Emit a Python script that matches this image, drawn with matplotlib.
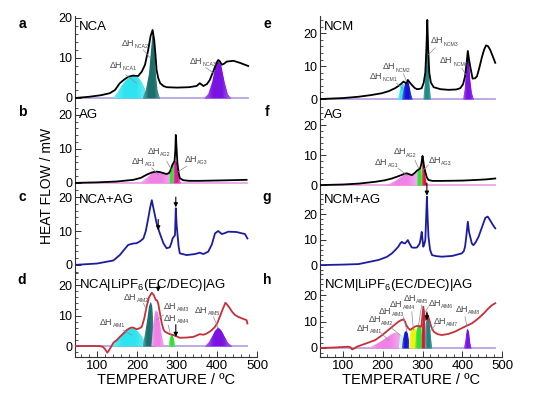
import numpy as np
import matplotlib.pyplot as plt
from matplotlib.colors import LinearSegmentedColormap, to_rgb
from matplotlib.ticker import FixedLocator, MultipleLocator

plt.rcParams['font.family'] = ['Liberation Sans', 'DejaVu Sans']
plt.rcParams['mathtext.fontset'] = 'custom'
plt.rcParams['mathtext.rm'] = 'Liberation Sans'
plt.rcParams['mathtext.it'] = 'Liberation Sans:italic'

# ---- curves (temperature / degC, heat flow / mW) ----
t_a = [45, 80, 110, 132, 145, 157, 168, 178, 190, 203, 212, 220, 228, 234, 239, 243, 246, 249, 253,
       258, 266, 274, 300, 330, 349, 357, 366, 375, 382, 390, 395, 400, 403, 407, 412, 418, 424, 441, 457, 478]
hf_a = [0, 0.3, 0.7, 1.2, 2.0, 3.7, 4.6, 5.3, 5.6, 5.5, 6.6, 8.3, 12, 15.5, 17, 14.5, 11, 7, 5,
        3.7, 3.0, 2.7, 2.6, 2.7, 3.0, 3.7, 3.0, 3.5, 4.5, 6.5, 7.8, 9.0, 9.5, 9.2, 8.3, 8.6, 9.1, 9.3, 8.8, 8.0]

t_b = [45, 100, 149, 191, 210, 224, 238, 249, 257, 265, 274, 280, 284, 288, 291, 294, 296, 297, 299,
       301, 304, 307, 315, 330, 357, 400, 440, 474]
hf_b = [0, 0.15, 0.4, 0.9, 1.5, 2.4, 3.1, 3.3, 3.2, 2.9, 2.6, 2.9, 3.8, 5.2, 5.8, 6.5, 10, 14.1, 10,
        5.8, 3, 1.4, 0.8, 0.6, 0.6, 0.7, 0.8, 0.9]

t_c = [45, 100, 141, 157, 168, 178, 190, 199, 208, 216, 222, 228, 233, 237, 242, 249, 257, 266, 274,
       282, 286, 289, 295, 297, 299, 301, 304, 307, 324, 345, 357, 366, 378, 387, 395, 403, 412, 420,
       428, 449, 470, 476]
hf_c = [0, 0.4, 1.3, 2.9, 4.5, 5.9, 6.3, 6.4, 7.0, 7.8, 10, 13.7, 17, 19.1, 16.2, 12.3, 9.3, 6.4, 4.9,
        5.2, 6.5, 7.8, 8.8, 16.7, 12, 9.3, 5.5, 3.4, 2.9, 3.2, 3.6, 3.2, 3.9, 6.0, 9.3, 10, 9.1, 9.4,
        9.8, 9.7, 9.1, 7.8]

t_d = [45, 80, 107, 115, 120, 126, 132, 141, 150, 157, 165, 174, 181, 187, 193, 199, 206, 212, 218,
       224, 230, 237, 242, 247, 250, 253, 257, 262, 266, 270, 280, 291, 307, 325, 341, 357, 366, 374,
       385, 395, 401, 407, 414, 421, 426, 432, 438, 445, 453, 462, 474, 476]
hf_d = [0, 0, 0, -0.3, -1, -2.2, -1, 1.1, 2.0, 3.0, 4.0, 5.2, 5.8, 6.1, 5.9, 5.5, 5.8, 6.3, 9,
        12.9, 16, 17.5, 16.7, 15.1, 15, 14, 11, 7.4, 5.5, 4.7, 4.0, 3.6, 2.7, 2.8, 3.0, 3.9, 3.7, 4.1,
        5.0, 6.3, 7.6, 9.6, 12, 14.2, 13.5, 12.4, 11.2, 10.2, 9.6, 9.1, 8.5, 7.4]

t_e = [42, 100, 139, 170, 197, 215, 231, 240, 246, 252, 256, 259, 263, 268, 273, 280, 286, 293, 298,
       303, 307, 310, 312, 314, 317, 321, 328, 345, 365, 385, 395, 402, 407, 411, 414, 417, 420, 426,
       432, 437, 443, 449, 455, 460, 465, 470, 476, 483]
hf_e = [0, 0.3, 0.7, 1.2, 1.75, 2.4, 3.3, 4.0, 4.6, 5.3, 5.0, 4.9, 5.8, 5.0, 4.3, 3.4, 3.0, 3.1, 3.3,
        5, 8, 16, 24, 16, 8, 5, 3.6, 3.0, 2.8, 2.9, 3.3, 4.5, 6.9, 11, 14.6, 12, 9.9, 6.2,
        6.3, 6.9, 9.5, 12.5, 15, 16.3, 16, 15, 13.2, 11]

t_f = [42, 100, 140, 181, 205, 223, 238, 248, 255, 261, 267, 273, 280, 286, 291, 294, 297, 300, 302,
       304, 307, 311, 315, 325, 349, 400, 433, 460, 483]
hf_f = [0, 0.2, 0.5, 1.1, 1.6, 2.2, 2.9, 3.4, 3.8, 3.9, 3.6, 3.3, 4.0, 4.8, 5.3, 5.6, 7, 9.7, 8,
        6, 4.4, 2.5, 1.7, 1.4, 1.4, 1.5, 1.7, 1.9, 2.2]

t_g = [42, 100, 139, 189, 210, 223, 232, 239, 244, 248, 252, 256, 260, 263, 267, 273, 280, 286, 290,
       293, 296, 298, 300, 302, 305, 307, 309, 311, 313, 315, 319, 324, 335, 349, 375, 399, 404, 407,
       410, 414, 417, 420, 424, 428, 434, 441, 450, 458, 464, 470, 476, 483]
hf_g = [0, 0.2, 0.4, 2.0, 3.2, 4.6, 6, 7.2, 8.5, 9.1, 8.6, 8.5, 9.2, 9.8, 8.5, 6.9, 6.8, 6.9, 7.8,
        8.5, 11, 13, 10, 7.2, 8.5, 9.8, 18, 26.8, 18, 11.1, 6, 3.9, 3.5, 3.3, 3.6, 4.6, 5.5, 7.2,
        11, 17, 13, 11.1, 8.5, 7.8, 9, 11.1, 15, 18.5, 19, 17.6, 16, 14.4]

t_h = [42, 80, 113, 118, 123, 128, 135, 150, 165, 181, 198, 214, 226, 239, 246, 252, 256, 259, 264,
       269, 275, 281, 286, 290, 294, 297, 299, 302, 305, 307, 309, 311, 314, 317, 322, 328, 338, 349,
       365, 382, 395, 407, 424, 435, 445, 455, 466, 475, 483]
hf_h = [0, 0.2, 0.5, 0.3, -0.5, -0.2, 0.5, 1.3, 2.1, 3.0, 4.8, 6.8, 8.3, 9.9, 10.5, 10.8, 10.0, 8.7, 7.5,
        6.8, 7.5, 8.1, 8.3, 8.3, 8.1, 8.1, 11, 15.6, 12, 10.6, 11.5, 13, 12, 10.6, 8, 6.2, 5.2, 4.9,
        5.3, 6.2, 7.2, 8.1, 9.3, 10.5, 11.8, 13.2, 15, 16.2, 16.9]

# ---- deconvoluted peaks ----
nca1_t = [140, 150, 160, 170, 180, 190, 200, 210, 218, 226]
nca1_h = [0, 1.2, 2.8, 4.2, 5.1, 5.5, 5.3, 4.2, 2.5, 0]
nca2_t = [214, 222, 230, 236, 239, 242, 246, 250, 256]
nca2_h = [0, 2, 6, 13, 16.5, 13, 6, 2, 0]
nca3_t = [368, 378, 388, 396, 403, 410, 418, 426, 434]
nca3_h = [0, 1, 4, 8, 9.3, 8, 4, 1, 0]

ncm1_t = [238, 242, 246, 250, 254, 258]
ncm1_h = [0, 2, 4, 4.8, 3.5, 0]
ncm2_t = [248, 252, 256, 260, 263, 266, 270, 274]
ncm2_h = [0, 2.5, 4.8, 5.6, 5.5, 4, 1.5, 0]
ncm3_t = [302, 306, 309, 311, 312, 313, 316, 320]
ncm3_h = [0, 5, 13, 21, 23, 18, 5, 0]
ncm4_t = [402, 406, 409, 412, 414, 416, 419, 423, 428]
ncm4_h = [0, 3, 8, 12.5, 14, 12, 6, 2, 0]

agb1_t = [208, 218, 228, 238, 248, 257, 265, 274, 281, 287, 288]
agb1_h = [0, 0.9, 1.8, 2.9, 3.3, 3.2, 2.9, 2.6, 3.0, 3.7, 0]
agb2_t = [281, 283, 286, 289, 291, 292]
agb2_h = [0, 4.0, 5.0, 5.8, 6.0, 0]
agb3_t = [291, 293, 296, 299, 302, 305, 308]
agb3_h = [0, 6, 6.5, 6, 4, 1.5, 0]

agf1_t = [206, 220, 233, 245, 255, 261, 268, 275, 282, 287, 288]
agf1_h = [0, 0.6, 1.5, 2.6, 3.5, 3.8, 3.5, 3.3, 3.8, 4.6, 0]
agf2_t = [286, 288, 292, 296, 298]
agf2_h = [0, 5, 5.5, 6, 0]
agf3_t = [298, 299, 301, 304, 307, 311]
agf3_h = [0, 8, 9, 5, 2, 0]

aimd1_t = [132, 145, 158, 170, 180, 190, 200, 210, 218, 226]
aimd1_h = [0, 1.5, 3.2, 4.8, 5.7, 5.8, 5.0, 3.5, 1.8, 0]
aimd2_t = [214, 220, 226, 230, 234, 237, 240, 244]
aimd2_h = [0, 4, 9, 13, 14.5, 13, 6, 0]
aimd3_t = [236, 240, 244, 247, 251, 255, 259, 263, 267]
aimd3_h = [0, 6, 10.5, 11.8, 11, 8.5, 5, 2, 0]
aimd4_t = [279, 282, 285, 288, 291, 294]
aimd4_h = [0, 2.5, 3.6, 3.6, 2.5, 0]
aimd5_t = [370, 380, 388, 395, 403, 410, 418, 426, 437]
aimd5_h = [0, 1.3, 3.2, 5, 6.1, 5.2, 3.2, 1.2, 0]

aimh1_t = [164, 180, 195, 210, 222, 230, 238, 244, 246]
aimh1_h = [0, 1.2, 2.5, 4, 5.2, 5.8, 5.5, 4.5, 0]
aimh2_t = [240, 244, 248, 252]
aimh2_h = [0, 5, 5, 0]
aimh3_t = [248, 251, 255, 259, 262, 265, 267]
aimh3_h = [0, 3.5, 6, 6.5, 5.5, 2.5, 0]
aimh4_t = [265, 268, 273, 278, 283, 287]
aimh4_h = [0, 5, 7.2, 7.6, 7, 0]
aimh5_t = [281, 284, 288, 292, 296, 299]
aimh5_h = [0, 6, 8.5, 8.7, 8, 0]
aimh6_t = [297, 299, 301, 302, 304, 306, 308]
aimh6_h = [0, 8, 13, 15.5, 13, 8, 0]
aimh7_t = [306, 308, 311, 314, 317, 320, 323]
aimh7_h = [0, 9, 12, 11, 9, 4, 0]
aimh8_t = [404, 408, 411, 413, 416, 419, 422]
aimh8_h = [0, 3, 6.5, 7.4, 6, 2, 0]

CYAN, TEAL, PURPLE, BLUE = '#2ee4ef', '#1b6f6d', '#7a12e2', '#1515d8'
PINK, GREEN, MAGENTA, RED = '#f081e6', '#2fe02f', '#e0189a', '#dd1530'
LILAC, PINKLINE = '#b9a3e3', '#eaa6e6'
NAVY, DARKRED = '#1c1ca0', '#c4303a'

W, H = 550, 399
fig = plt.figure(figsize=(W / 100, H / 100), dpi=100)


def shaded_peak(ax, ft, fh, fc):
    # peak fill with lighter edges, like the gradient fills in the figure
    poly = ax.fill_between(ft, 0, fh, color=fc, lw=0, zorder=2)
    c = np.array(to_rgb(fc))
    light = c + (1 - c) * 0.35
    cmap = LinearSegmentedColormap.from_list('pk', [light, c, c, light])
    im = ax.imshow(np.linspace(0, 1, 64)[None, :], cmap=cmap, aspect='auto', origin='lower',
                   extent=(min(ft), max(ft), 0, max(fh)), zorder=2.1, interpolation='bilinear')
    im.set_clip_path(poly.get_paths()[0], transform=ax.transData)


# each panel: letter, pixel box (x0, x1, ytop, ybottom), ylim, curve, line colour, baseline colour,
# fills, labels (subscript, text junction, leader start, leader end), arrows, sample name
panels = [
    dict(letter='a', box=(75, 257, 16, 104), ylim=(-1.5, 20.5), xmin=45, t=t_a, hf=hf_a, lc='k', base=LILAC,
         fills=[(nca1_t, nca1_h, CYAN), (nca2_t, nca2_h, TEAL), (nca3_t, nca3_h, PURPLE)],
         labels=[('NCA1', (162, 7.5), (172, 5.8), (199, 3.7)),
                 ('NCA2', (192, 13.0), (216, 12), (234, 9.9)),
                 ('NCA3', (364, 8.5), (372, 7.6), (392, 6.2))],
         arrows=[], name='NCA'),
    dict(letter='b', box=(75, 257, 104, 189), ylim=(-1.8, 23.2), xmin=45, t=t_b, hf=hf_b, lc='k', base=PINKLINE,
         fills=[(agb1_t, agb1_h, PINK), (agb2_t, agb2_h, GREEN), (agb3_t, agb3_h, MAGENTA)],
         labels=[('AG1', (218, 5.6), (237, 4.4), (253, 2.4)),
                 ('AG2', (257, 8.5), (274, 6.4), (287, 3.8)),
                 ('AG3', (350, 6.2), (324, 4.9), (303, 3.3))],
         arrows=[], name='AG'),
    dict(letter='c', box=(75, 257, 189, 272), ylim=(-2.1, 22.4), xmin=45, t=t_c, hf=hf_c, lc=NAVY, base=None,
         fills=[], labels=[],
         arrows=[(253, 13.4, 10.2), (297, 20.0, 17.0)], name='NCA+AG'),
    dict(letter='d', box=(75, 257, 272, 357), ylim=(-3.6, 24.3), xmin=45, t=t_d, hf=hf_d, lc=DARKRED, base=LILAC,
         fills=[(aimd1_t, aimd1_h, CYAN), (aimd2_t, aimd2_h, TEAL), (aimd3_t, aimd3_h, PINK),
                (aimd4_t, aimd4_h, GREEN), (aimd5_t, aimd5_h, PURPLE)],
         labels=[('AIM1', (139, 6.9), (166, 5.2), (187, 3.6)),
                 ('AIM2', (199, 15.2), (216, 14.0), (224, 11.8)),
                 ('AIM3', (299, 12.2), (266, 10.2), (249, 8.5)),
                 ('AIM4', (299, 8.3), (278, 6.9), (284, 3.6)),
                 ('AIM5', (376, 11.0), (391, 9.6), (403, 5.8))],
         arrows=[(253, 20.8, 17.8), (297, 7.0, 3.0)], name='NCA|LiPF$_6$(EC/DEC)|AG'),
    dict(letter='e', box=(320, 502, 16, 104), ylim=(-1.5, 25.2), xmin=42, t=t_e, hf=hf_e, lc='k', base=LILAC,
         fills=[(ncm1_t, ncm1_h, CYAN), (ncm2_t, ncm2_h, BLUE), (ncm3_t, ncm3_h, '#1f8a86'),
                (ncm4_t, ncm4_h, PURPLE)],
         labels=[('NCM1', (199, 6.1), (235, 4.8), (252, 2.8)),
                 ('NCM2', (231, 9.0), (252, 7.7), (260, 5.3)),
                 ('NCM3', (353, 16.9), (332, 15.6), (315, 13.5)),
                 ('NCM4', (376, 10.8), (399, 9.4), (409, 7.4))],
         arrows=[], name='NCM'),
    dict(letter='f', box=(320, 502, 104, 189), ylim=(-1.3, 27.0), xmin=42, t=t_f, hf=hf_f, lc='k', base=PINKLINE,
         fills=[(agf1_t, agf1_h, PINK), (agf2_t, agf2_h, GREEN), (agf3_t, agf3_h, RED)],
         labels=[('AG1', (212, 6.8), (239, 5.6), (260, 3.3)),
                 ('AG2', (258, 10.2), (281, 8.3), (290, 5.6)),
                 ('AG3', (346, 7.5), (315, 6.7), (302, 5.0))],
         arrows=[], name='AG'),
    dict(letter='g', box=(320, 502, 189, 272), ylim=(-2.7, 29.8), xmin=42, t=t_g, hf=hf_g, lc=NAVY, base=None,
         fills=[], labels=[],
         arrows=[(311, 32.0, 27.2)], name='NCM+AG'),
    dict(letter='h', box=(320, 502, 272, 357), ylim=(-3.4, 28.7), xmin=42, t=t_h, hf=hf_h, lc=DARKRED, base=LILAC,
         fills=[(aimh1_t, aimh1_h, PINK), (aimh2_t, aimh2_h, '#c9f3f7'), (aimh3_t, aimh3_h, BLUE),
                (aimh4_t, aimh4_h, '#f2f200'), (aimh5_t, aimh5_h, GREEN), (aimh6_t, aimh6_h, RED),
                (aimh7_t, aimh7_h, '#1f8080'), (aimh8_t, aimh8_h, PURPLE)],
         labels=[('AIM1', (166, 6.6), (197, 5.5), (214, 3.0)),
                 ('AIM2', (195, 9.7), (218, 8.0), (244, 4.9)),
                 ('AIM3', (222, 12.9), (252, 11.8), (261, 6.2)),
                 ('AIM4', (250, 15.4), (273, 13.7), (277, 6.8)),
                 ('AIM5', (283, 17.9), (298, 16.2), (290, 8.7)),
                 ('AIM6', (346, 16.0), (315, 15.6), (307, 13.7)),
                 ('AIM7', (359, 9.1), (332, 8.7), (319, 6.2)),
                 ('AIM8', (414, 13.5), (407, 11.8), (412, 8.0))],
         arrows=[(311, 13.6, 10.4)], name='NCM|LiPF$_6$(EC/DEC)|AG'),
]

for i, p in enumerate(panels):
    x0, x1, y0, y1 = p['box']
    ax = fig.add_axes([x0 / W, 1 - y1 / H, (x1 - x0) / W, (y1 - y0) / H])
    ax.patch.set_alpha(0)
    bottom = p['letter'] in ('d', 'h')
    for s in ('top', 'right'):
        ax.spines[s].set_visible(False)
    ax.spines['bottom'].set_visible(bottom)
    for s in ('left', 'bottom'):
        ax.spines[s].set_linewidth(0.8)
        ax.spines[s].set_color('#333333')

    if p['base']:
        ax.plot([p['t'][0], p['t'][-1]], [0, 0], color=p['base'], lw=1.3, zorder=1)
    for ft, fh, fc in p['fills']:
        shaded_peak(ax, ft, fh, fc)
    ax.plot(p['t'], p['hf'], color=p['lc'], lw=1.3, zorder=4, solid_joinstyle='round')

    ax.set_xlim(p['xmin'], 500)
    ax.set_ylim(*p['ylim'])
    ax.yaxis.set_major_locator(FixedLocator([0, 10, 20]))
    ax.yaxis.set_minor_locator(MultipleLocator(2))
    ax.tick_params(axis='y', which='major', direction='in', length=4, width=0.7, labelsize=9, pad=2,
                   color='#333333')
    ax.tick_params(axis='y', which='minor', direction='in', length=2, width=0.6, color='#333333')
    if bottom:
        ax.xaxis.set_major_locator(FixedLocator([100, 200, 300, 400, 500]))
        ax.xaxis.set_minor_locator(MultipleLocator(20))
        ax.tick_params(axis='x', which='major', direction='in', length=4, width=0.7, labelsize=9.5, pad=2,
                       color='#333333')
        ax.tick_params(axis='x', which='minor', direction='in', length=2, width=0.6, color='#333333')
        ax.set_xlabel('TEMPERATURE / ºC', fontsize=10.5, labelpad=1)
    else:
        ax.tick_params(axis='x', which='both', bottom=False, labelbottom=False)

    for sub, (tx, ty), (lx0, ly0), (lx1, ly1) in p['labels']:
        ax.plot([lx0, lx1], [ly0, ly1], color='#8a8a8a', lw=0.5, zorder=5)
        ax.text(tx, ty, 'ΔH', fontsize=6.5, color='#444444', ha='right', va='baseline', zorder=6)
        ax.annotate(sub, xy=(tx, ty), xytext=(0.3, -1.6), textcoords='offset points', fontsize=3.8,
                    color='#444444', ha='left', va='baseline', zorder=6)
    for ax_t, ya, yb in p['arrows']:
        ax.annotate('', xy=(ax_t, yb), xytext=(ax_t, ya), annotation_clip=False,
                    arrowprops=dict(arrowstyle='-|>', color='k', lw=0.8, mutation_scale=6,
                                    shrinkA=0, shrinkB=0), zorder=7)

    ax.text(0.02, 0.94, p['name'], transform=ax.transAxes, fontsize=9.5, ha='left', va='top')
    fig.text((x0 - 53) / W, 1 - (y0 + 8) / H, p['letter'], fontsize=10, fontweight='bold',
             ha='center', va='center')

fig.text(47 / W, 1 - 186 / H, 'HEAT FLOW / mW', rotation=90, fontsize=10, ha='center', va='center')

fig.savefig('out.png', dpi=100)
